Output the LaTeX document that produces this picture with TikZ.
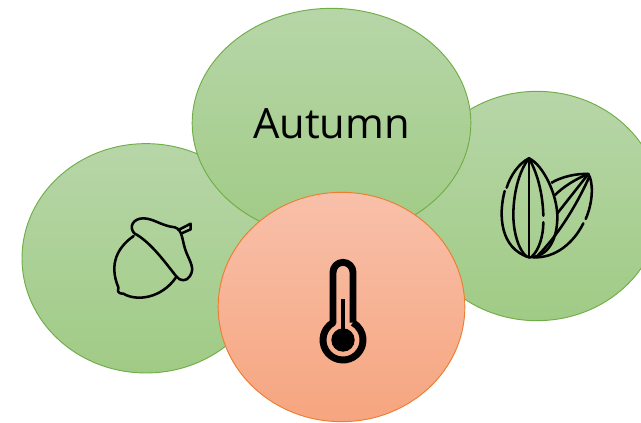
\documentclass[tikz,border=0pt]{standalone}
\usepackage{fontspec}
\setmainfont{Open Sans}
\usetikzlibrary{shapes.geometric}
\definecolor{gbord}{HTML}{70AD47}
\definecolor{obord}{HTML}{ED7D31}
\definecolor{gtop}{HTML}{B7D6A8}
\definecolor{gbot}{HTML}{A0CB85}
\definecolor{otop}{HTML}{F8C0AA}
\definecolor{obot}{HTML}{F6A57F}
\tikzset{
  green blob/.style={ellipse,draw=gbord,line width=0.7pt,top color=gtop,bottom color=gbot,inner sep=0pt},
  orange blob/.style={ellipse,draw=obord,line width=0.7pt,top color=otop,bottom color=obot,inner sep=0pt},
  icon/.style={draw=black,line cap=round,line join=round,line width=1.9pt},
}
\begin{document}
\begin{tikzpicture}[x=0.75pt,y=-0.75pt]
\useasboundingbox (0,0) rectangle (641,422);
\clip (0,0) rectangle (641,422);
\node[green blob,minimum width=186pt,minimum height=172pt] (left) at (146,258.3) {};
\node[green blob,minimum width=186pt,minimum height=172pt] (right) at (537,206) {};
\node[green blob,minimum width=209pt,minimum height=172pt] (top) at (331.5,123) {};
\node[orange blob,minimum width=185pt,minimum height=172pt] (bottom) at (341.5,307) {};
\node[font=\fontsize{31.3}{37}\selectfont,text=black,inner sep=0pt] (title) at (331.5,124) {Autumn};
% acorn
\begin{scope}[shift={(90,200)},x=0.25pt,y=-0.25pt,icon]
\draw (133,100) .. controls (115,80) and (130,55) .. (160,55) .. controls (190,55) and (215,78) .. (255,82) .. controls (280,90) and (275,125) .. (290,160) .. controls (300,185) and (315,205) .. (300,228) .. controls (290,245) and (270,245) .. (258,228) .. controls (220,180) and (180,125) .. (133,100);
\draw (131,108) .. controls (85,140) and (55,190) .. (85,262) .. controls (85,270) and (78,280) .. (100,281) .. controls (140,305) and (215,295) .. (258,232);
\draw (265,90) -- (302,71) -- (302,88) -- (275,100);
\end{scope}
% seeds
\begin{scope}[shift={(480,145)},x=0.25pt,y=-0.25pt,icon]
\draw (147,40) .. controls (115,55) and (90,95) .. (80,128);
\draw (74,138) .. controls (55,210) and (60,310) .. (147,337);
\draw (147,40) .. controls (190,60) and (232,150) .. (232,215) .. controls (232,290) and (200,337) .. (147,337);
\draw (147,40) .. controls (115,80) and (100,150) .. (100,210) .. controls (100,260) and (115,315) .. (140,335);
\draw (147,40) -- (147,337);
\draw (147,40) .. controls (170,80) and (188,140) .. (190,212);
\draw (190,232) .. controls (190,270) and (178,315) .. (155,335);
\draw (325,87) .. controls (290,85) and (245,95) .. (215,113);
\draw (325,87) .. controls (290,100) and (250,125) .. (225,150);
\draw (325,87) -- (232,205);
\draw (328,95) .. controls (290,180) and (235,270) .. (170,335);
\draw (325,87) .. controls (340,110) and (340,170) .. (317,222);
\draw (310,235) .. controls (280,295) and (225,340) .. (160,337);
\end{scope}
% thermometer
\begin{scope}[shift={(300,250)},x=0.25pt,y=-0.25pt]
\draw[line width=5.2pt,line join=round] (159,218) -- (159,67) arc[start angle=360,end angle=180,radius=30] -- (99,218) arc[start angle=240,end angle=-60,radius=60];
\fill (129,270) circle[radius=35];
\fill (123,148) rectangle (135,250);
\end{scope}
\end{tikzpicture}
\end{document}
